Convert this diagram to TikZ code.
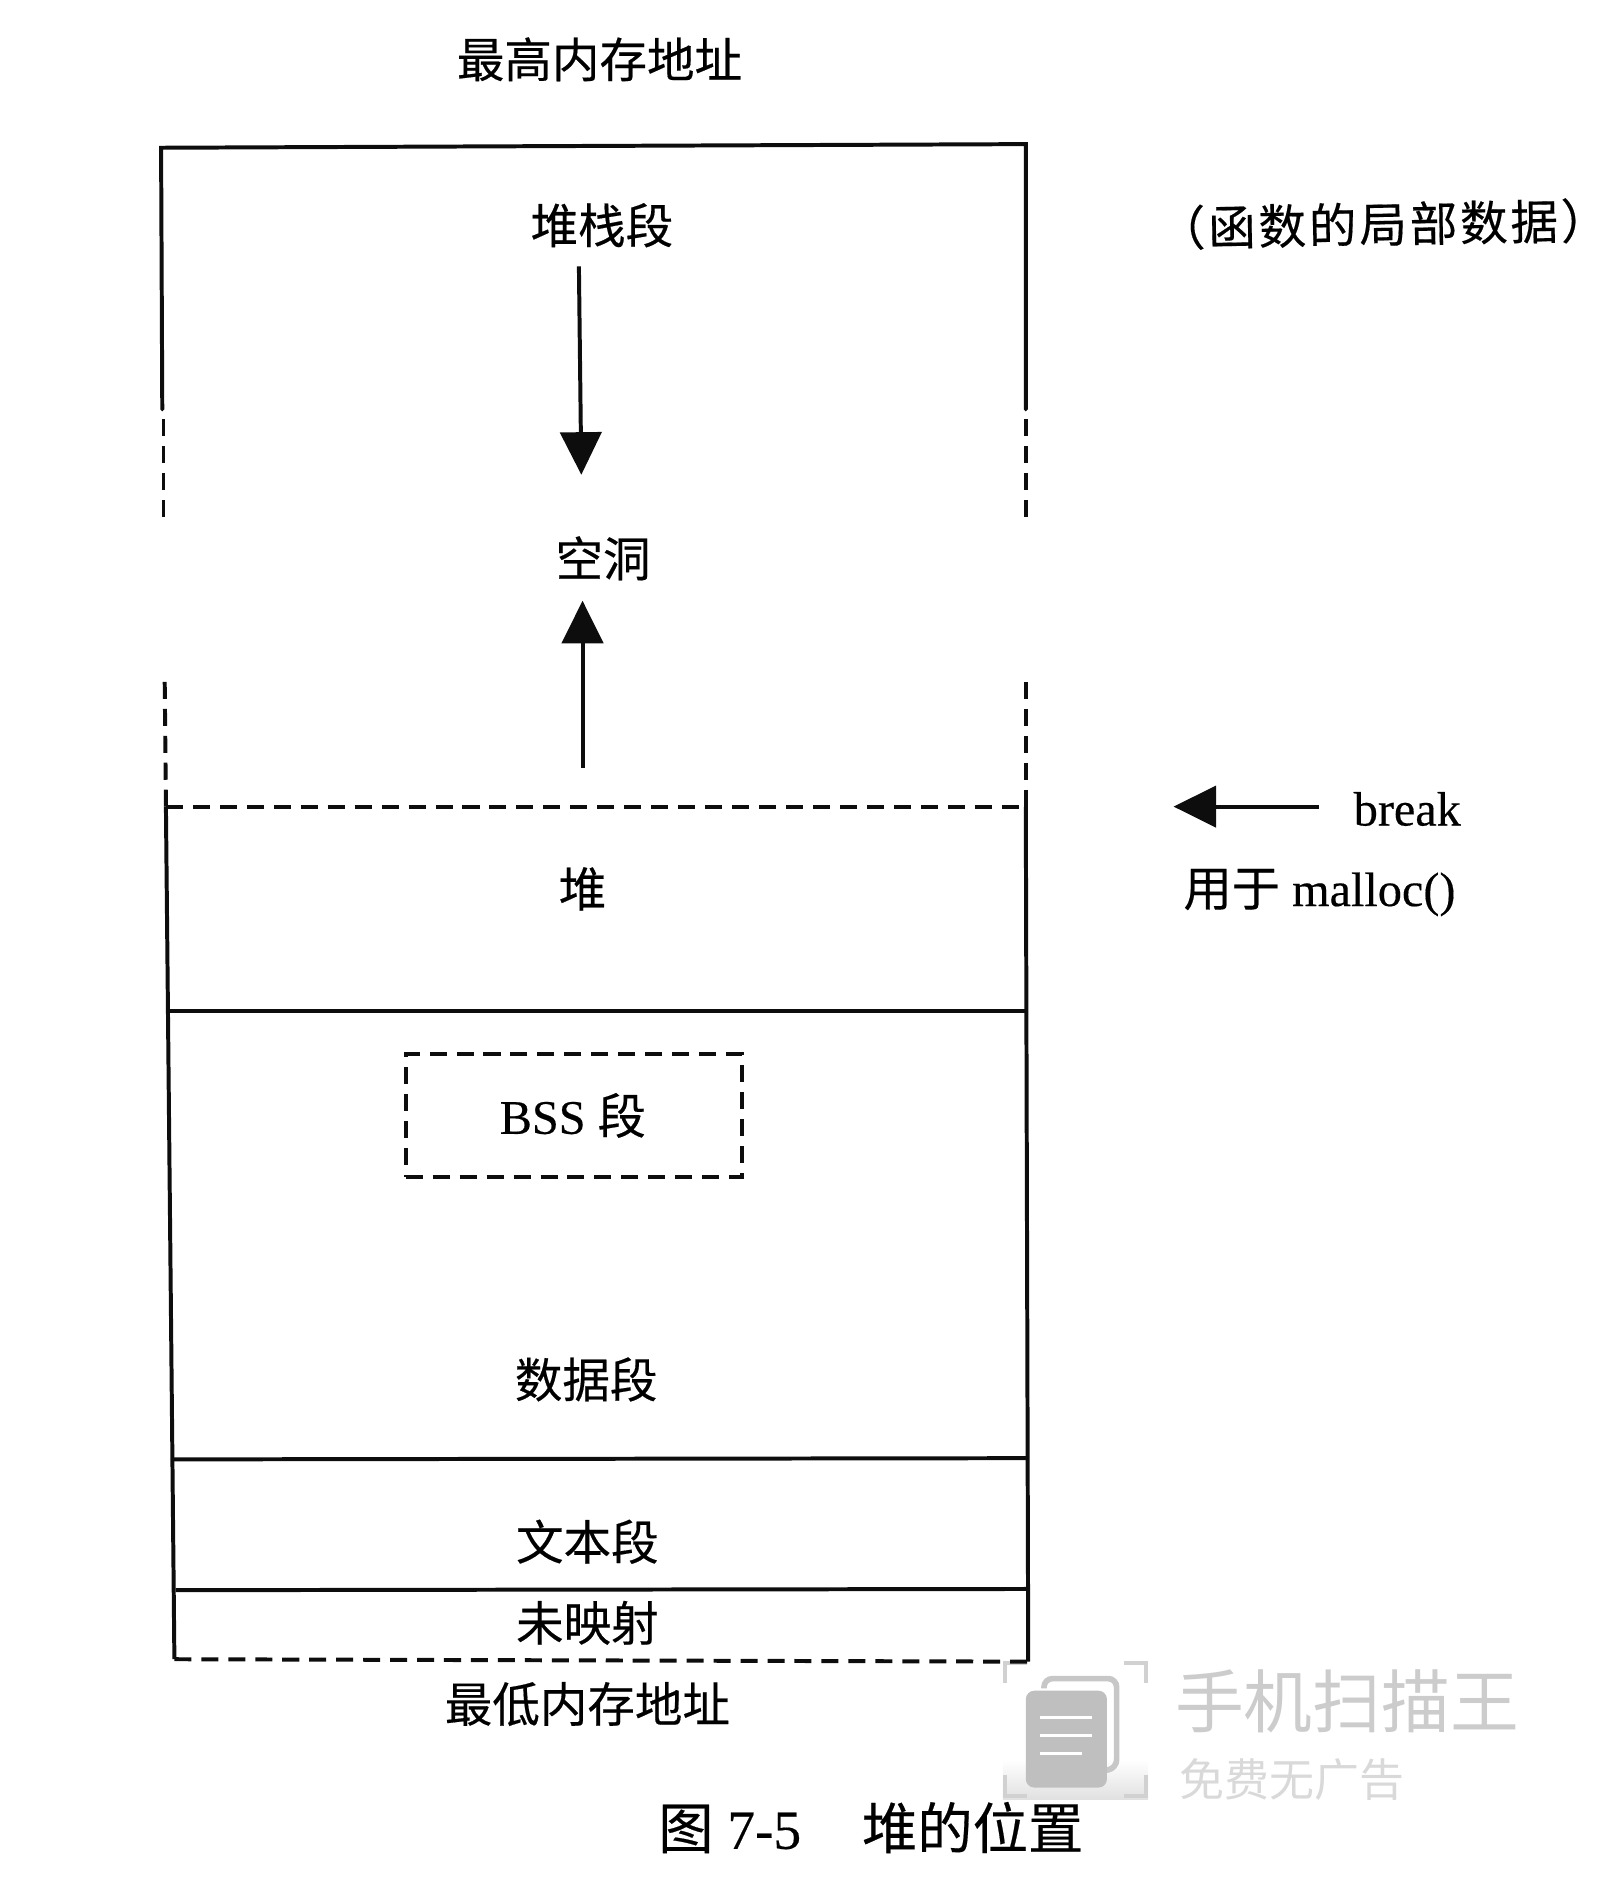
\documentclass[tikz,border=0pt]{standalone}
\usepackage{fontspec}
\setmainfont{Liberation Serif}[FakeBold=0.35]
\newfontfamily\cjk{Noto Sans CJK SC}[FakeBold=0.35]
\newfontfamily\cjkthin{Noto Sans CJK SC}
\usetikzlibrary{arrows.meta}
\tikzset{
  x=0.03cm,y=-0.03cm,
  solidline/.style={line width=2.8pt,black!95},
  dashline/.style={line width=2.8pt,black!95,dash pattern=on 12pt off 7pt},
  arrowline/.style={line width=2.8pt,black!95,-{Triangle[length=30pt,width=29pt]}},
  txt/.style={inner sep=0pt,font=\cjk\fontsize{33.5}{33.5}\selectfont,text=black},
  latin/.style={inner sep=0pt,font=\fontsize{34}{34}\selectfont,text=black},
  capt/.style={inner sep=0pt,font=\fontsize{39}{39}\selectfont,text=black},
  wmA/.style={inner sep=0pt,font=\cjkthin\fontsize{48.5}{48.5}\selectfont,text=black!20},
  wmB/.style={inner sep=0pt,font=\cjkthin\fontsize{31.7}{31.7}\selectfont,text=black!15},
  wmline/.style={black!18,line width=3pt},
}
\begin{document}
\begin{tikzpicture}
\useasboundingbox (0,0) rectangle (1334,1568);
% watermark
\shade[top color=white,bottom color=black!12] (828,1453) rectangle (948,1486);
\node[wmA,anchor=west] (wm1) at (970,1405) {手机扫描王};
\node[wmB,anchor=west] (wm2) at (974,1469) {免费无广告};
\draw[wmline] (830,1390) -- (830,1373) -- (848,1373);
\draw[wmline] (928,1373) -- (946,1373) -- (946,1390);
\draw[wmline] (830,1466) -- (830,1483) -- (848,1483);
\draw[wmline] (928,1483) -- (946,1483) -- (946,1466);
\draw[black!22,line width=4pt,rounded corners=6pt] (862,1394) -- (862,1386) -- (922,1386) -- (922,1460) -- (912,1462);
\fill[black!25,rounded corners=6pt] (847,1396) rectangle (914,1476);
\draw[white,line width=2.5pt] (859,1418) -- (902,1418) (859,1433) -- (902,1433) (859,1448) -- (893,1448);
% labels
\node[txt] (top) at (495,49) {最高内存地址};
\node[txt] (stack) at (497,186) {堆栈段};
\node[txt,rotate=1] (func) at (1142,185) {\addfontfeature{LetterSpace=6}（函数的局部数据）};
\node[txt] (hole) at (498,461) {空洞};
\node[txt] (heap) at (481,734) {堆};
\node[latin] (brk) at (1162,668) {break};
\node[latin,anchor=west] (mal) at (977,737) {{\cjk 用于} malloc()};
\node[latin] (bss) at (473,921) {BSS {\cjk 段}};
\node[txt] (data) at (484,1139) {数据段};
\node[txt] (text) at (485,1273) {文本段};
\node[txt] (unm) at (485,1340) {未映射};
\node[txt] (low) at (485,1407) {最低内存地址};
\node[capt] (cap) at (719,1509) {{\cjk 图} 7-5\hspace{1.1em}{\cjk 堆的位置}};
% outline
\coordinate (tl) at (133,122); \coordinate (tr) at (847,119);
\coordinate (ls1) at (134,338); \coordinate (rs1) at (847,338);
\coordinate (ld1a) at (135,346); \coordinate (ld1b) at (135,430);
\coordinate (rd1a) at (847,346); \coordinate (rd1b) at (847,430);
\coordinate (ld2a) at (136,563); \coordinate (ld2b) at (137,666);
\coordinate (rd2a) at (847,563); \coordinate (rd2b) at (847,666);
\coordinate (bl) at (144,1370); \coordinate (br) at (849,1372);
\draw[solidline,line cap=round] (ls1) -- (tl) -- (tr) -- (rs1);
\draw[dashline] (ld1a) -- (ld1b);
\draw[dashline] (rd1a) -- (rd1b);
\draw[dashline] (ld2a) -- (ld2b);
\draw[dashline] (rd2a) -- (rd2b);
\draw[dashline] (ld2b) -- (rd2b);
\draw[solidline] (ld2b) -- (bl);
\draw[solidline] (rd2b) -- (br);
\draw[dashline] (bl) -- (br);
% separators
\coordinate (s1l) at (139,835); \coordinate (s1r) at (847,835);
\coordinate (s2l) at (143,1205); \coordinate (s2r) at (848,1204);
\coordinate (s3l) at (145,1313); \coordinate (s3r) at (849,1312);
\draw[solidline] (s1l) -- (s1r);
\draw[solidline] (s2l) -- (s2r);
\draw[solidline] (s3l) -- (s3r);
% BSS box
\node[draw=black!95,line width=2.8pt,dash pattern=on 12pt off 7pt,minimum width=8.34cm,minimum height=3.03cm,inner sep=0pt] (bssbox) at (474,921) {};
% arrows
\coordinate (a1s) at (478,220); \coordinate (a1e) at (480,392);
\coordinate (a2s) at (481,634); \coordinate (a2e) at (481,496);
\coordinate (a3s) at (1089,666); \coordinate (a3e) at (969,666);
\draw[arrowline] (a1s) -- (a1e);
\draw[arrowline] (a2s) -- (a2e);
\draw[arrowline] (a3s) -- (a3e);
\end{tikzpicture}
\end{document}
